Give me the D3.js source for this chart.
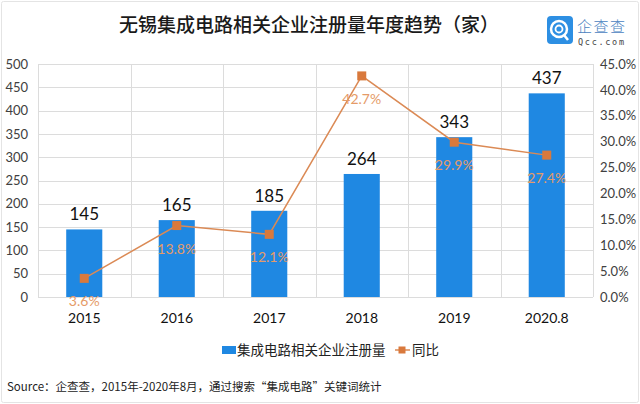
<!DOCTYPE html>
<html><head><meta charset="utf-8">
<script src="https://cdn.jsdelivr.net/npm/d3@7"></script>
<style>
html,body{margin:0;padding:0;background:#fff;}
svg{display:block;}
</style></head>
<body>
<svg id="c" width="640" height="404"></svg>
<script>
const categories = ["2015","2016","2017","2018","2019","2020.8"];
const registrations = [145,165,185,264,343,437];
const yoy = [3.6,13.8,12.1,42.7,29.9,27.4];
const leftTicks = [0,50,100,150,200,250,300,350,400,450,500];
const rightTicks = [0,5,10,15,20,25,30,35,40,45];
const title = "无锡集成电路相关企业注册量年度趋势（家）";
const seriesNames = ["集成电路相关企业注册量","同比"];
const source = "Source：企查查，2015年-2020年8月，通过搜索“集成电路”关键词统计";

const svg = d3.select("#c");
const CJK = "'Noto Sans CJK SC','Noto Sans',sans-serif";
const NUM = "Lato,'Noto Sans',sans-serif";
const M = {l:38, r:593, t:64, b:297};
const barColor = "#1f88e2", lineColor = "#db8a55", markColor = "#d9793c", labColor = "#e59b68";

svg.append("rect").attr("x",1.5).attr("y",1.5).attr("width",637).attr("height",401)
  .attr("fill","#fff").attr("stroke","#e4e4e4").attr("rx",2);

const x = d3.scaleBand().domain(categories).range([M.l,M.r]).padding(0);
const y = d3.scaleLinear().domain([0,500]).range([M.b,M.t]);
const y2 = d3.scaleLinear().domain([0,45]).range([M.b,M.t]);

// grid
const g = svg.append("g");
g.selectAll("line.h").data(leftTicks).join("line")
  .attr("x1",M.l).attr("x2",M.r).attr("y1",d=>Math.round(y(d))+0.5).attr("y2",d=>Math.round(y(d))+0.5)
  .attr("stroke","#dcdcdc");
const bounds = categories.map(c=>x(c)).concat([M.r]);
g.selectAll("line.v").data(bounds).join("line")
  .attr("x1",d=>Math.round(d)+0.5).attr("x2",d=>Math.round(d)+0.5).attr("y1",M.t).attr("y2",M.b)
  .attr("stroke","#dcdcdc");

// left axis
const la = svg.append("g").attr("transform",`translate(${M.l-10},0)`)
  .call(d3.axisLeft(y).tickValues(leftTicks).tickSize(0).tickPadding(0));
la.select(".domain").remove();
la.selectAll("text").attr("font-family",NUM).attr("font-size",13).attr("fill","#404040");

// right axis
const ra = svg.append("g").attr("transform",`translate(${M.r+7},0)`)
  .call(d3.axisRight(y2).tickValues(rightTicks).tickSize(0).tickPadding(0).tickFormat(d=>d.toFixed(1)+"%"));
ra.select(".domain").remove();
ra.selectAll("text").attr("font-family",NUM).attr("font-size",13).attr("fill","#404040");

// bottom axis
const ba = svg.append("g").attr("transform",`translate(0,${M.b+13})`)
  .call(d3.axisBottom(x).tickSize(0).tickPadding(0));
ba.select(".domain").remove();
ba.selectAll("text").attr("font-family",NUM).attr("font-size",14).attr("fill","#111").attr("dy","0.9em");

// bars
const bw = x.bandwidth()*0.39;
const data = categories.map((c,i)=>({c,v:registrations[i],p:yoy[i]}));
svg.append("g").selectAll("rect").data(data).join("rect")
  .attr("x",d=>x(d.c)+x.bandwidth()/2-bw/2).attr("width",bw)
  .attr("y",d=>y(d.v)).attr("height",d=>y(0)-y(d.v)).attr("fill",barColor);
svg.append("g").selectAll("text").data(data).join("text")
  .attr("x",d=>x(d.c)+x.bandwidth()/2).attr("y",d=>y(d.v)-9)
  .attr("text-anchor","middle").attr("font-family",NUM).attr("font-size",17).attr("fill","#111")
  .text(d=>d.v);

// line
const cx = d=>x(d.c)+x.bandwidth()/2;
svg.append("path").datum(data)
  .attr("d",d3.line().x(cx).y(d=>y2(d.p)))
  .attr("fill","none").attr("stroke",lineColor).attr("stroke-width",1.5);
svg.append("g").selectAll("rect").data(data).join("rect")
  .attr("x",d=>cx(d)-4.5).attr("y",d=>y2(d.p)-4.5).attr("width",9).attr("height",9)
  .attr("fill",markColor);
svg.append("g").selectAll("text").data(data).join("text")
  .attr("x",cx).attr("y",d=>y2(d.p)+28)
  .attr("text-anchor","middle").attr("font-family",NUM).attr("font-size",14).attr("fill",labColor)
  .text(d=>d.p.toFixed(1)+"%");

// title
svg.append("text").attr("x",309).attr("y",32).attr("text-anchor","middle")
  .attr("font-family",CJK).attr("font-size",19).attr("font-weight",500).attr("fill","#1a1a1a")
  .text(title);

// logo
const lg = svg.append("g");
lg.append("rect").attr("x",547).attr("y",16).attr("width",26).attr("height",28).attr("rx",4).attr("fill","#2d8fe3");
lg.append("circle").attr("cx",559).attr("cy",29).attr("r",8).attr("fill","none").attr("stroke","#fff").attr("stroke-width",2.5);
lg.append("circle").attr("cx",559).attr("cy",29).attr("r",3.5).attr("fill","none").attr("stroke","#fff").attr("stroke-width",1.8);
lg.append("line").attr("x1",564).attr("y1",35).attr("x2",568).attr("y2",40).attr("stroke","#fff").attr("stroke-width",2.5);
lg.append("text").attr("x",577).attr("y",32).attr("font-family",CJK).attr("font-size",15).attr("font-weight",300)
  .attr("fill","#4a82bf").attr("textLength",48).text("企查查");
lg.append("text").attr("x",578).attr("y",45).attr("font-family","'DejaVu Sans Mono',monospace").attr("font-size",8.5)
  .attr("fill","#444").attr("textLength",46).text("Qcc.com");

// legend
const leg = svg.append("g");
leg.append("rect").attr("x",222).attr("y",346).attr("width",14).attr("height",8).attr("fill",barColor);
leg.append("text").attr("x",237).attr("y",355).attr("font-family",CJK).attr("font-size",13.5).attr("fill","#222").text(seriesNames[0]);
leg.append("line").attr("x1",395).attr("x2",410).attr("y1",350).attr("y2",350).attr("stroke",lineColor).attr("stroke-width",1.5);
leg.append("rect").attr("x",398.5).attr("y",346.5).attr("width",7).attr("height",7).attr("fill",markColor);
leg.append("text").attr("x",412).attr("y",355).attr("font-family",CJK).attr("font-size",13.5).attr("fill","#222").text(seriesNames[1]);

// source
svg.append("text").attr("x",7).attr("y",391).attr("font-family",CJK).attr("font-size",11.5).attr("fill","#222").text(source);
</script>
</body></html>
